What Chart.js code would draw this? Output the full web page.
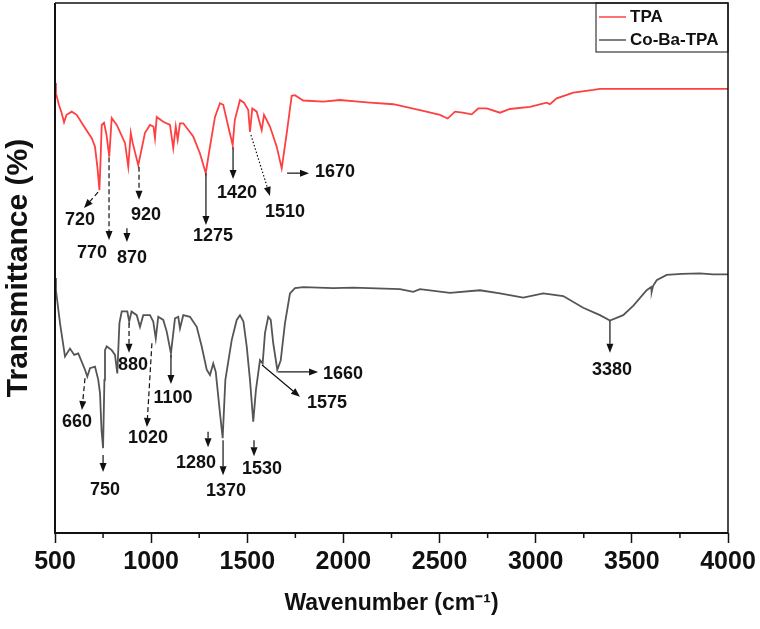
<!DOCTYPE html>
<html>
<head>
<meta charset="utf-8">
<script src="https://cdn.jsdelivr.net/npm/chart.js@4.4.1/dist/chart.umd.min.js"></script>
<style>
  html, body { margin: 0; padding: 0; background: #fff; }
  #wrap { width: 760px; height: 629px; }
</style>
</head>
<body>
<div id="wrap"><canvas id="ftirChart"></canvas></div>
<script>
// Series data (wavenumber in cm-1, transmittance in arbitrary units 0-100)
const tpaWavenumber = [500, 505, 520, 535, 547, 560, 587, 613, 646, 691, 708, 722, 731, 737, 743, 755, 768, 782, 795, 821, 864, 881, 894, 904, 933, 968, 994, 1012, 1020, 1029, 1063, 1098, 1115, 1128, 1138, 1150, 1167, 1219, 1254, 1284, 1306, 1332, 1358, 1375, 1401, 1424, 1435, 1462, 1483, 1505, 1514, 1526, 1549, 1575, 1587, 1618, 1653, 1679, 1705, 1731, 1748, 1791, 1895, 1982, 2077, 2138, 2259, 2398, 2502, 2542, 2580, 2620, 2667, 2701, 2745, 2814, 2866, 2970, 3057, 3074, 3109, 3196, 3300, 3334, 3600, 3800, 4000];
const tpaTransmittance = [84.9, 83.0, 80.8, 79.2, 77.5, 78.9, 79.5, 78.9, 77.0, 74.5, 72.9, 68.5, 64.7, 70.4, 77.0, 77.4, 75.1, 71.0, 78.3, 77.0, 73.6, 69.1, 75.5, 73.6, 69.4, 75.5, 77.0, 76.7, 74.5, 78.5, 77.6, 77.0, 72.6, 76.7, 74.2, 77.3, 77.3, 74.8, 71.6, 67.9, 72.9, 78.5, 81.1, 80.8, 76.7, 73.2, 77.9, 81.7, 81.2, 79.8, 75.7, 80.1, 79.5, 76.0, 78.9, 76.7, 72.9, 68.8, 75.4, 82.5, 82.6, 81.6, 81.4, 81.7, 81.4, 81.2, 80.9, 79.8, 78.9, 78.2, 79.5, 79.3, 79.0, 80.1, 80.1, 79.3, 80.0, 80.4, 81.2, 80.9, 82.0, 83.1, 83.6, 83.8, 83.8, 83.8, 83.8];

const cobaWavenumber = [500, 505, 526, 552, 578, 600, 621, 656, 668, 682, 708, 725, 734, 742, 750, 757, 760, 769, 795, 812, 824, 835, 847, 876, 886, 898, 925, 942, 959, 994, 1011, 1024, 1037, 1063, 1081, 1103, 1124, 1141, 1150, 1167, 1202, 1237, 1263, 1289, 1306, 1323, 1336, 1358, 1372, 1386, 1419, 1445, 1462, 1480, 1497, 1514, 1531, 1545, 1566, 1580, 1592, 1609, 1622, 1635, 1656, 1674, 1696, 1722, 1748, 1791, 1947, 2051, 2294, 2363, 2398, 2554, 2710, 2814, 2935, 3039, 3143, 3247, 3334, 3386, 3455, 3508, 3577, 3600, 3603, 3610, 3629, 3681, 3760, 3854, 3920, 4000];
const cobaTransmittance = [48.1, 45.8, 39.6, 33.3, 34.8, 33.6, 33.9, 30.8, 29.5, 31.1, 31.4, 28.9, 26.4, 19.4, 16.0, 28.9, 34.5, 35.2, 34.5, 33.6, 30.1, 39.6, 41.8, 41.8, 39.9, 41.8, 41.1, 38.9, 41.1, 41.1, 39.9, 36.7, 40.8, 40.2, 38.0, 33.9, 40.5, 40.8, 38.6, 41.1, 40.8, 38.9, 35.2, 30.8, 29.8, 32.0, 30.4, 22.6, 17.9, 28.9, 36.4, 40.2, 41.1, 39.9, 35.2, 28.9, 21.0, 27.0, 32.6, 32.0, 37.7, 40.8, 40.2, 35.8, 30.8, 32.6, 39.6, 45.2, 46.2, 46.4, 46.2, 46.3, 46.0, 45.5, 46.0, 45.3, 45.8, 45.2, 44.4, 45.2, 44.7, 42.5, 41.1, 40.1, 41.1, 42.9, 45.8, 46.4, 45.5, 46.6, 47.7, 48.7, 48.9, 49.0, 48.8, 48.8];

const seriesLabels = ['TPA', 'Co-Ba-TPA'];
const xMajorTicks = [500, 1000, 1500, 2000, 2500, 3000, 3500, 4000];
const xMinorTicks = [750, 1250, 1750, 2250, 2750, 3250, 3750];

// Peak labels: text and anchor (wavenumber, transmittance)
const peakText = ['720', '770', '870', '920', '1275', '1420', '1510', '1670',
                  '660', '750', '880', '1020', '1100', '1280', '1370', '1530', '1575', '1660', '3380'];
const peakTextX = [630, 692, 900, 973, 1322, 1446, 1696, 1956,
                   614, 760, 906, 984, 1114, 1233, 1389, 1577, 1915, 1998, 3397];
const peakTextY = [59.1, 52.8, 51.9, 60.0, 56.0, 64.2, 60.6, 68.1,
                   20.9, 8.1, 31.7, 17.9, 25.5, 13.2, 7.9, 12.1, 24.5, 30.0, 30.8];

// Peak arrows: from (x1,y1) to (x2,y2), line kind
const arrowX1 = [724, 781, 874, 937, 1285, 1426, 1519, 1707, 656, 750, 885, 1004, 1103, 1296, 1374, 1535, 1577, 1660, 3386];
const arrowY1 = [64.3, 70.9, 57.5, 69.1, 67.9, 72.8, 75.1, 67.9, 29.2, 14.7, 39.6, 35.8, 33.6, 19.1, 17.5, 17.5, 31.7, 30.4, 40.0];
const arrowX2 = [651, 781, 874, 937, 1285, 1426, 1618, 1821, 640, 750, 885, 978, 1103, 1296, 1374, 1535, 1774, 1868, 3386];
const arrowY2 = [61.3, 55.3, 54.9, 62.9, 58.1, 66.8, 63.6, 67.9, 23.2, 11.5, 34.0, 20.0, 28.1, 16.2, 10.9, 14.5, 25.7, 30.4, 34.0];
const arrowKind = ['dash', 'dash', 'solid', 'dash', 'solid', 'solid', 'dot', 'solid',
                   'dash', 'solid', 'dash', 'dash', 'solid', 'solid', 'solid', 'solid', 'solid', 'solid', 'solid'];

const FONT = "'Liberation Sans', Arial, sans-serif";

function toPoints(xs, ys) {
    return xs.map((x, i) => ({ x: x, y: ys[i] }));
}

function drawArrow(ctx, x1, y1, x2, y2, kind) {
    const ang = Math.atan2(y2 - y1, x2 - x1);
    const head = 9;
    const half = 3.5;
    const bx = x2 - head * Math.cos(ang);
    const by = y2 - head * Math.sin(ang);
    ctx.save();
    ctx.strokeStyle = '#111';
    ctx.fillStyle = '#111';
    ctx.lineWidth = 1.2;
    if (kind === 'dash') ctx.setLineDash([5, 3]);
    if (kind === 'dot') ctx.setLineDash([1.5, 2]);
    ctx.beginPath();
    ctx.moveTo(x1, y1);
    ctx.lineTo(bx, by);
    ctx.stroke();
    ctx.setLineDash([]);
    ctx.beginPath();
    ctx.moveTo(x2, y2);
    ctx.lineTo(bx + half * Math.sin(ang), by - half * Math.cos(ang));
    ctx.lineTo(bx - half * Math.sin(ang), by + half * Math.cos(ang));
    ctx.closePath();
    ctx.fill();
    ctx.restore();
}

const frameAndNotes = {
    id: 'frameAndNotes',
    afterDatasetsDraw(chart) {
        const { ctx, chartArea: a, scales: { x, y } } = chart;

        // frame
        ctx.save();
        ctx.strokeStyle = '#111';
        ctx.lineWidth = 1.5;
        ctx.beginPath();
        ctx.moveTo(a.left, a.top);
        ctx.lineTo(a.right, a.top);
        ctx.lineTo(a.right, a.bottom);
        ctx.stroke();
        ctx.lineWidth = 2;
        ctx.beginPath();
        ctx.moveTo(a.left, a.top);
        ctx.lineTo(a.left, a.bottom);
        ctx.lineTo(a.right, a.bottom);
        ctx.stroke();

        // minor ticks
        ctx.lineWidth = 1.5;
        xMinorTicks.forEach(v => {
            const px = x.getPixelForValue(v);
            ctx.beginPath();
            ctx.moveTo(px, a.bottom);
            ctx.lineTo(px, a.bottom + 5);
            ctx.stroke();
        });
        ctx.restore();

        // arrows
        arrowX1.forEach((v, i) => {
            drawArrow(ctx,
                x.getPixelForValue(v), y.getPixelForValue(arrowY1[i]),
                x.getPixelForValue(arrowX2[i]), y.getPixelForValue(arrowY2[i]),
                arrowKind[i]);
        });

        // peak labels
        ctx.save();
        ctx.fillStyle = '#111';
        ctx.font = 'bold 18px ' + FONT;
        ctx.textAlign = 'center';
        ctx.textBaseline = 'middle';
        peakText.forEach((t, i) => {
            ctx.fillText(t, x.getPixelForValue(peakTextX[i]), y.getPixelForValue(peakTextY[i]));
        });
        ctx.restore();

        // legend box in the top right corner
        const bx = 596, by = a.top, bw = a.right - 596, bh = 49;
        ctx.save();
        ctx.strokeStyle = '#111';
        ctx.lineWidth = 1;
        ctx.strokeRect(bx, by, bw, bh);
        ctx.font = 'bold 17px ' + FONT;
        ctx.textBaseline = 'middle';
        chart.data.datasets.forEach((ds, i) => {
            const ly = by + 14 + i * 23;
            ctx.strokeStyle = ds.borderColor;
            ctx.lineWidth = 1.5;
            ctx.beginPath();
            ctx.moveTo(bx + 3, ly);
            ctx.lineTo(bx + 30, ly);
            ctx.stroke();
            ctx.fillStyle = '#111';
            ctx.fillText(ds.label, bx + 34, ly);
        });
        ctx.restore();
    }
};

new Chart(document.getElementById('ftirChart'), {
    type: 'line',
    data: {
        datasets: [
            {
                label: seriesLabels[0],
                data: toPoints(tpaWavenumber, tpaTransmittance),
                borderColor: '#ff4040',
                borderWidth: 1.8,
                pointRadius: 0,
                tension: 0
            },
            {
                label: seriesLabels[1],
                data: toPoints(cobaWavenumber, cobaTransmittance),
                borderColor: '#555555',
                borderWidth: 1.8,
                pointRadius: 0,
                tension: 0
            }
        ]
    },
    options: {
        responsive: true,
        maintainAspectRatio: false,
        animation: false,
        layout: { padding: { top: 3, right: 32, left: 0, bottom: 0 } },
        plugins: { legend: { display: false }, tooltip: { enabled: false } },
        scales: {
            x: {
                type: 'linear',
                min: 500,
                max: 4000,
                afterBuildTicks: scale => { scale.ticks = xMajorTicks.map(v => ({ value: v })); },
                afterFit: scale => { scale.height = 96; },
                grid: { drawOnChartArea: false, tickLength: 10, tickColor: '#111', tickWidth: 1.5 },
                border: { display: false },
                ticks: {
                    color: '#111',
                    font: { family: FONT, size: 25, weight: 'bold' },
                    padding: 4,
                    maxRotation: 0,
                    autoSkip: false,
                    callback: v => String(v)
                },
                title: {
                    display: true,
                    text: 'Wavenumber (cm\u207B\u00B9)',
                    color: '#111',
                    font: { family: FONT, size: 23, weight: 'bold' },
                    padding: { top: 0, bottom: 12 }
                }
            },
            y: {
                min: 0,
                max: 100,
                afterFit: scale => { scale.width = 55; },
                grid: { display: false },
                border: { display: false },
                ticks: { display: false },
                title: {
                    display: true,
                    text: 'Transmittance (%)',
                    color: '#111',
                    font: { family: FONT, size: 30, weight: 'bold' },
                    padding: { top: 1, bottom: 0 }
                }
            }
        }
    },
    plugins: [frameAndNotes]
});
</script>
</body>
</html>
